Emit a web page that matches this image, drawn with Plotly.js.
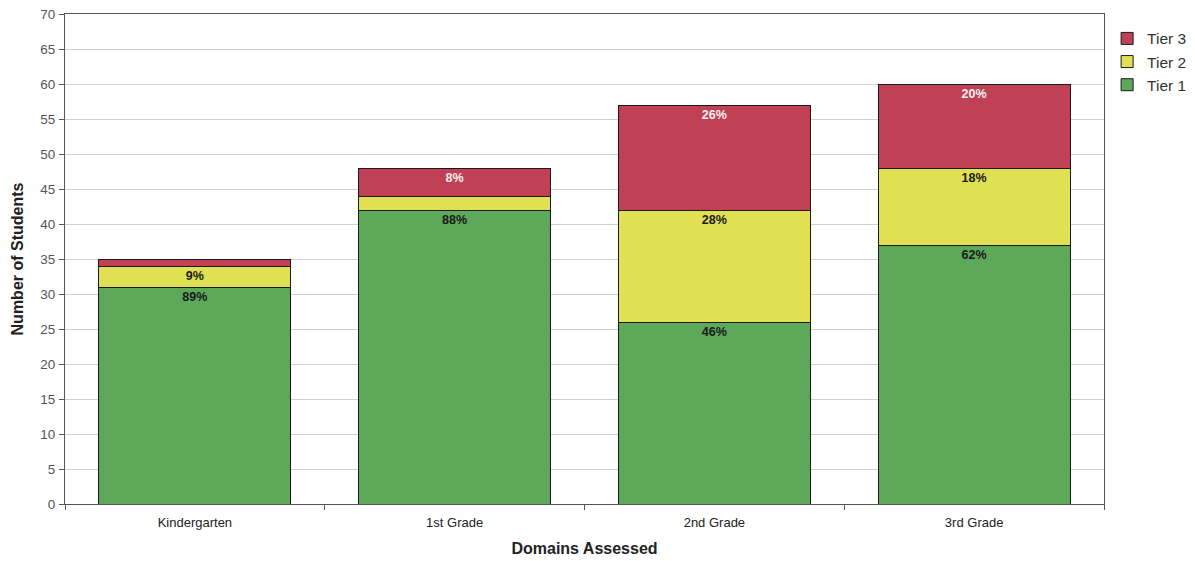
<!DOCTYPE html>
<html>
<head>
<meta charset="utf-8">
<script src="https://cdn.plot.ly/plotly-3.0.1.min.js"></script>
<style>html,body{margin:0;padding:0;background:#fff;}#chart{width:1195px;height:561px;}</style>
</head>
<body>
<div id="chart"></div>
<script>
const categories = ["Kindergarten", "1st Grade", "2nd Grade", "3rd Grade"];
const tier1 = [31, 42, 26, 37];
const tier2 = [3, 2, 16, 11];
const tier3 = [1, 4, 15, 12];
const tier1Labels = ["89%", "88%", "46%", "62%"];
const tier2Labels = ["9%", "", "28%", "18%"];
const tier3Labels = ["", "8%", "26%", "20%"];

const FONT = "Liberation Sans, Arial, sans-serif";
function mk(name, y, labels, color, txtColor) {
  return {
    type: "bar", name: name, x: categories, y: y,
    text: labels, texttemplate: "%{text}",
    textposition: "inside", insidetextanchor: "end", constraintext: "none",
    textfont: {family: FONT, size: 12.5, color: txtColor, weight: "bold"},
    marker: {color: color, line: {color: "#1a1a1a", width: 1}},
    hoverinfo: "skip"
  };
}
const data = [
  mk("Tier 1", tier1, tier1Labels, "#5ea85a", "#1a1a1a"),
  mk("Tier 2", tier2, tier2Labels, "#e0e052", "#1a1a1a"),
  mk("Tier 3", tier3, tier3Labels, "#c04156", "#f4f0f0")
];
const layout = {
  width: 1195, height: 561,
  margin: {l: 65, r: 91, t: 14, b: 57, autoexpand: false},
  barmode: "stack", bargap: 0.26,
  paper_bgcolor: "#fff", plot_bgcolor: "#fff",
  font: {family: FONT, size: 13, color: "#444"},
  xaxis: {
    type: "category", tickson: "boundaries", ticks: "outside", ticklen: 5, tickcolor: "#555",
    showline: true, linecolor: "#555", linewidth: 1, mirror: true,
    tickfont: {size: 13, color: "#222"}, ticklabelstandoff: 6,
    title: {text: "Domains Assessed", font: {size: 16, color: "#222", weight: "bold"}, standoff: 14}
  },
  yaxis: {
    range: [0, 70], dtick: 5, ticks: "outside", ticklen: 5, tickcolor: "#555",
    showline: true, linecolor: "#555", linewidth: 1, mirror: true,
    gridcolor: "#d0d0d0", zeroline: false,
    tickfont: {size: 13.5, color: "#555"}, ticklabelstandoff: 1,
    title: {text: "Number of Students", font: {size: 16, color: "#222", weight: "bold"}, standoff: 12}
  },
  legend: {
    x: 1.003, y: 0.984, xanchor: "left", yanchor: "top", traceorder: "reversed",
    font: {size: 15.5, color: "#333"}, itemwidth: 30, tracegroupgap: 0
  },
  showlegend: true
};
Plotly.newPlot("chart", data, layout, {displayModeBar: false, staticPlot: true});
</script>
</body>
</html>
